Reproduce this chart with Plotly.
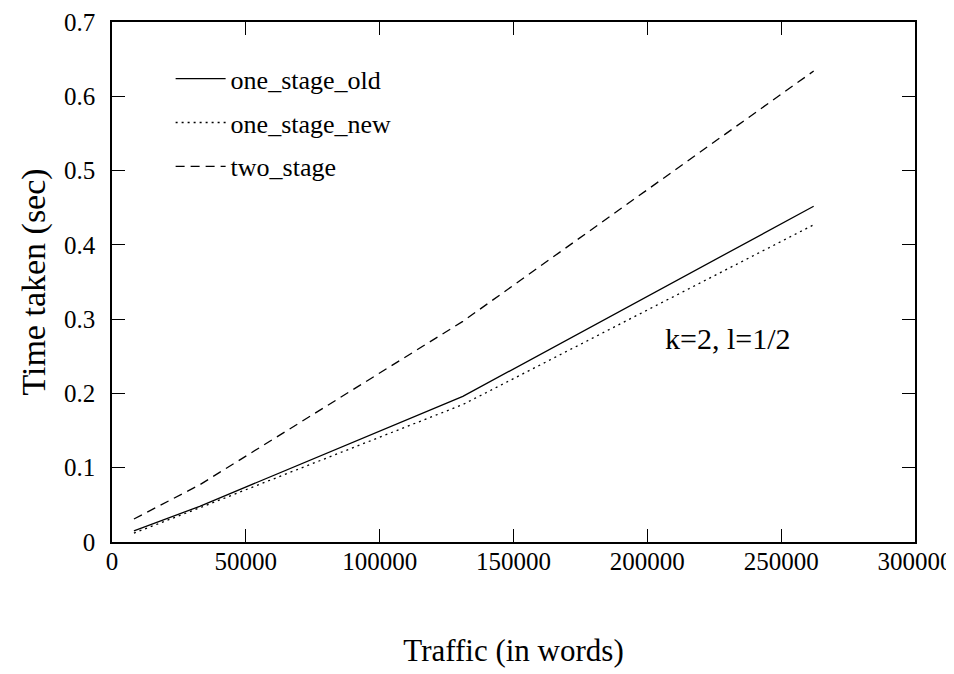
import plotly.graph_objects as go

traffic = [8192, 32768, 131072, 262144]
one_stage_old = [0.015, 0.048, 0.196, 0.452]
one_stage_new = [0.012, 0.046, 0.185, 0.427]
two_stage = [0.031, 0.077, 0.297, 0.634]

x_ticks = [0, 50000, 100000, 150000, 200000, 250000, 300000]
y_ticks = [0, 0.1, 0.2, 0.3, 0.4, 0.5, 0.6, 0.7]
y_tick_text = ["0", "0.1", "0.2", "0.3", "0.4", "0.5", "0.6", "0.7"]

FONT = "Liberation Serif"

fig = go.Figure()
fig.add_trace(go.Scatter(x=traffic, y=one_stage_old, mode="lines", name="one_stage_old",
                         line=dict(color="black", width=1.3), legendgroup="a"))
fig.add_trace(go.Scatter(x=traffic, y=one_stage_new, mode="lines", name="one_stage_new",
                         line=dict(color="black", width=1.3, dash="2px,4px"), legendgroup="b"))
fig.add_trace(go.Scatter(x=traffic, y=two_stage, mode="lines", name="two_stage",
                         line=dict(color="black", width=1.3, dash="9px,6px"), legendgroup="c"))

axis_common = dict(
    showgrid=False, zeroline=False, showline=True, linecolor="black", linewidth=1.5,
    mirror="ticks", ticks="inside", ticklen=13, tickwidth=1, tickcolor="black",
    tickfont=dict(family=FONT, size=25, color="black"), automargin=False,
)

fig.update_xaxes(range=[0, 300000.01], tickvals=x_ticks, ticktext=[str(v) for v in x_ticks],
                 title=dict(text="Traffic (in words)", font=dict(family=FONT, size=31, color="black"),
                            standoff=66),
                 ticklabelstandoff=-4, **axis_common)
fig.update_yaxes(range=[0, 0.70001], tickvals=y_ticks, ticktext=y_tick_text,
                 title=dict(text="Time taken (sec)", font=dict(family=FONT, size=34, color="black"),
                            standoff=8),
                 ticklabelstandoff=10, **axis_common)

fig.add_annotation(x=230000, y=0.274, xref="x", yref="y", text="k=2, l=1/2", showarrow=False,
                   font=dict(family=FONT, size=30, color="black"), xanchor="center", yanchor="middle")

fig.update_layout(
    width=954, height=674,
    margin=dict(l=104, r=47, t=14, b=140, autoexpand=False),
    paper_bgcolor="white", plot_bgcolor="white",
    font=dict(family=FONT, color="black"),
    legend=dict(x=0.073, y=0.936, xanchor="left", yanchor="top", bgcolor="rgba(0,0,0,0)",
                font=dict(family=FONT, size=26, color="black"), tracegroupgap=7,
                itemwidth=50),
    showlegend=True,
)

fig.write_html("out.html")
